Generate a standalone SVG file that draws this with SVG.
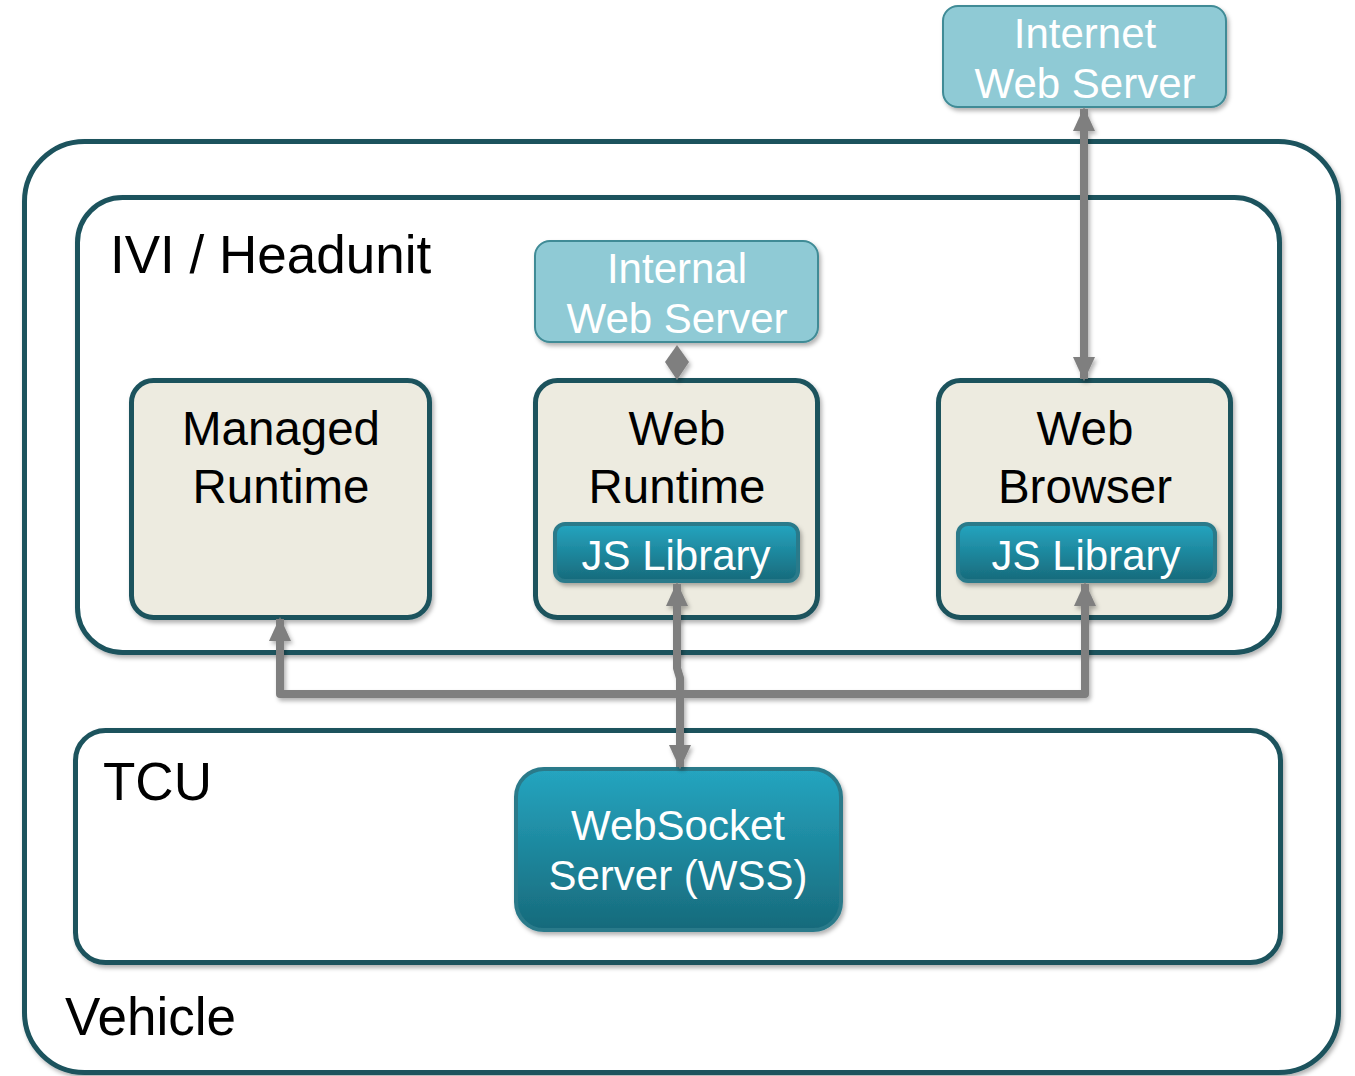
<svg xmlns="http://www.w3.org/2000/svg" width="1355" height="1076" viewBox="0 0 1355 1076">
  <style>
    text { font-family: "Liberation Sans", Arial, sans-serif; }
    .frame { fill: #ffffff; stroke: #1b525d; stroke-width: 5; }
    .runtime { fill: #edebe0; stroke: #1b525d; stroke-width: 5; }
    .server { fill: #8fcad5; stroke: #3f8b96; stroke-width: 2; }
    .lib { fill: url(#tealGrad); stroke: #2a7a8a; stroke-width: 4; }
    .title { font-size: 53px; fill: #000000; }
    .label { font-size: 47.5px; fill: #000000; text-anchor: middle; }
    .white { font-size: 42px; fill: #ffffff; text-anchor: middle; }
    .link { fill: none; stroke: #7f7f7f; stroke-width: 8; stroke-linejoin: round; }
  </style>
  <defs>
    <linearGradient id="tealGrad" x1="0" y1="0" x2="0" y2="1">
      <stop offset="0" stop-color="#25a5c0"/>
      <stop offset="1" stop-color="#176a7b"/>
    </linearGradient>
    <filter id="shadow" x="-10%" y="-10%" width="120%" height="130%">
      <feDropShadow dx="2" dy="3" stdDeviation="2" flood-color="#000000" flood-opacity="0.3"/>
    </filter>
    <marker id="head" viewBox="0 0 24 24" refX="22" refY="12" markerWidth="24" markerHeight="24" markerUnits="userSpaceOnUse" orient="auto-start-reverse">
      <path d="M0,1 L24,12 L0,23 Z" fill="#7f7f7f"/>
    </marker>
  </defs>

  <!-- container frames -->
  <g id="vehicle">
    <rect class="frame" x="24.5" y="141.5" width="1314" height="931" rx="60" filter="url(#shadow)"/>
    <text class="title" x="65" y="1035">Vehicle</text>
  </g>
  <g id="ivi">
    <rect class="frame" x="77.5" y="197.5" width="1202" height="455" rx="45" filter="url(#shadow)"/>
    <text class="title" x="110" y="273" font-size="54">IVI / Headunit</text>
  </g>
  <g id="tcu">
    <rect class="frame" x="75.5" y="730.5" width="1205" height="232" rx="30" filter="url(#shadow)"/>
    <text class="title" x="103" y="800">TCU</text>
  </g>

  <!-- servers -->
  <g id="internet-web-server">
    <rect class="server" x="943" y="6" width="283" height="101" rx="15" filter="url(#shadow)"/>
    <text class="white" x="1085" y="48">Internet</text>
    <text class="white" x="1085" y="98">Web Server</text>
  </g>
  <g id="internal-web-server">
    <rect class="server" x="535" y="241" width="283" height="101" rx="15" filter="url(#shadow)"/>
    <text class="white" x="677" y="283">Internal</text>
    <text class="white" x="677" y="333">Web Server</text>
  </g>

  <!-- runtimes -->
  <g id="managed-runtime">
    <rect class="runtime" x="131.5" y="380.5" width="298" height="237" rx="22" filter="url(#shadow)"/>
    <text class="label" x="281" y="445">Managed</text>
    <text class="label" x="281" y="503">Runtime</text>
  </g>
  <g id="web-runtime">
    <rect class="runtime" x="535.5" y="380.5" width="282" height="237" rx="22" filter="url(#shadow)"/>
    <text class="label" x="677" y="445">Web</text>
    <text class="label" x="677" y="503">Runtime</text>
  </g>
  <g id="web-runtime-js">
    <rect class="lib" x="555" y="524" width="243" height="57" rx="10" filter="url(#shadow)"/>
    <text class="white" x="676" y="570">JS Library</text>
  </g>
  <g id="web-browser">
    <rect class="runtime" x="938.5" y="380.5" width="292" height="237" rx="22" filter="url(#shadow)"/>
    <text class="label" x="1085" y="445">Web</text>
    <text class="label" x="1085" y="503">Browser</text>
  </g>
  <g id="web-browser-js">
    <rect class="lib" x="958" y="524" width="257" height="57" rx="10" filter="url(#shadow)"/>
    <text class="white" x="1086" y="570">JS Library</text>
  </g>

  <!-- WebSocket server -->
  <g id="wss">
    <rect class="lib" x="516" y="769" width="325" height="161" rx="28" filter="url(#shadow)"/>
    <text class="white" x="678" y="840">WebSocket</text>
    <text class="white" x="678" y="890">Server (WSS)</text>
  </g>

  <!-- connectors -->
  <g id="connectors" filter="url(#shadow)">
    <path class="link" d="M1084,109 L1084,379" marker-start="url(#head)" marker-end="url(#head)"/>
    <!-- short two-way link: the two heads meet in a diamond -->
    <polygon points="677,345 689,362 677,380 665,362" fill="#7f7f7f"/>
    <path class="link" d="M677,584 L677,668 L680,678 L680,767" marker-start="url(#head)" marker-end="url(#head)"/>
    <path class="link" d="M280,619 L280,694 L1085,694 L1085,584" marker-start="url(#head)" marker-end="url(#head)"/>
  </g>
</svg>
